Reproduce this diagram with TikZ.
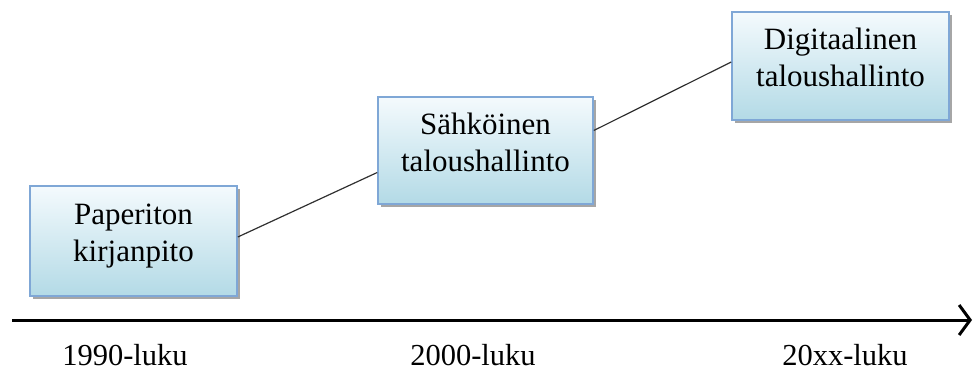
\documentclass[tikz,border=0pt]{standalone}
\usepackage{fontspec}
\setmainfont{Liberation Serif}
\usetikzlibrary{arrows.meta,shadows}
\definecolor{boxline}{HTML}{7FA7D6}
\definecolor{boxtop}{HTML}{F4FAFD}
\definecolor{boxbottom}{HTML}{B3DAE6}
\definecolor{linkgray}{HTML}{303030}
\begin{document}
\begin{tikzpicture}[x=1pt,y=-1pt,
  stagebox/.style={draw=boxline, line width=1.6pt, top color=boxtop, bottom color=boxbottom,
    minimum width=#1, align=center, inner sep=0pt,
    font=\fontsize{31}{37}\selectfont,
    drop shadow={shadow xshift=3pt, shadow yshift=-3pt, fill=black, opacity=0.35}},
  link/.style={draw=linkgray, line width=1.2pt},
  period/.style={font=\fontsize{30.5}{36}\selectfont, anchor=center}]
\useasboundingbox (0,0) rectangle (973,373);

% stage boxes
\node[stagebox=207pt, minimum height=110pt] (p1) at (133.5,241) {Paperiton\\kirjanpito\\[-20pt]};
\node[stagebox=215pt, minimum height=107pt] (p2) at (485.5,150.5) {Sähköinen\\taloushallinto\\[-20pt]};
\node[stagebox=217pt, minimum height=108pt] (p3) at (840.5,66) {Digitaalinen\\taloushallinto\\[-20pt]};

% connectors between stages
\coordinate (a1) at ([yshift=4pt]p1.east);
\coordinate (b1) at ([yshift=-22pt]p2.west);
\draw[link] (a1) -- (b1);
\coordinate (a2) at ([yshift=20pt]p2.east);
\coordinate (b2) at ([yshift=4pt]p3.west);
\draw[link] (a2) -- (b2);

% time axis
\coordinate (ax0) at (12,320);
\coordinate (ax1) at (972,320);
\draw[line width=3pt, -{Straight Barb[length=11pt, width=30pt, line width=3pt]}] (ax0) -- (ax1);

% periods
\node[period] (t1) at (125,355) {1990-luku};
\node[period] (t2) at (473,355) {2000-luku};
\node[period] (t3) at (845,355) {20xx-luku};
\end{tikzpicture}
\end{document}
